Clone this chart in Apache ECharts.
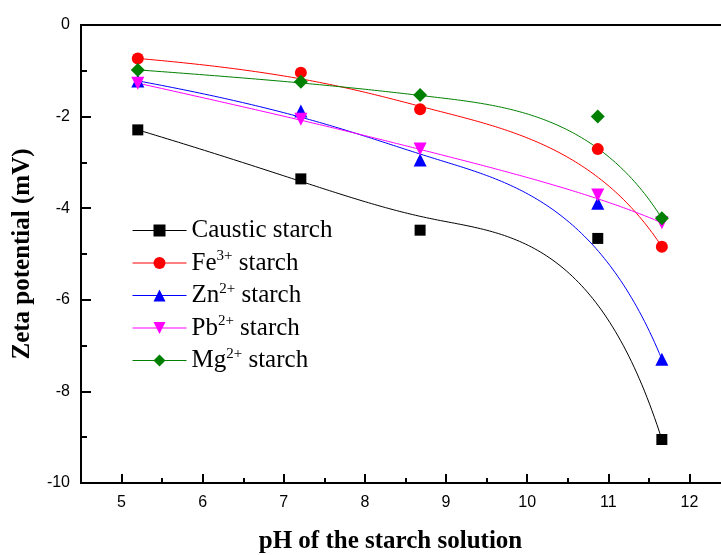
<!DOCTYPE html>
<html><head><meta charset="utf-8">
<script src="https://cdn.jsdelivr.net/npm/echarts@6/dist/echarts.min.js"></script>
<style>html,body{margin:0;padding:0;background:#fff}#c{width:721px;height:555px}</style>
</head><body><div id="c"></div>
<script>
// ---- data ----
const pH = [5.2, 7.21, 8.68, 10.87, 11.66];
const causticStarch = [-2.29, -3.36, -4.48, -4.66, -9.05];
const feStarch = [-0.73, -1.04, -1.84, -2.71, -4.84];
const znStarch = [-1.22, -1.88, -2.95, -3.89, -7.30];
const pbStarch = [-1.27, -2.06, -2.71, -3.71, -4.32];
const mgStarch = [-0.98, -1.24, -1.53, -2.00, -4.22];
const seriesNames = ['Caustic starch', 'Fe3+ starch', 'Zn2+ starch', 'Pb2+ starch', 'Mg2+ starch'];
const seriesValues = [causticStarch, feStarch, znStarch, pbStarch, mgStarch];
const xTitle = 'pH of the starch solution';
const yTitle = 'Zeta potential (mV)';

// ---- styles ----
const seriesColors = ['#000000', '#ff0000', '#0000ff', '#ff00ff', '#008000'];
const seriesSymbols = ['rect', 'circle', 'triangle', 'triangle', 'diamond'];
const seriesSymbolSizes = [11, 12, 13, 13, 14];
const seriesSymbolRotate = [0, 0, 0, 180, 0];

// Origin-style B-spline connecting line (clamped cubic, data points as control points)
function bsplinePoints(ctrl, samples) {
  const n = ctrl.length, p = Math.min(3, n - 1);
  const t = [];
  for (let i = 0; i <= p; i++) t.push(0);
  for (let i = 1; i < n - p; i++) t.push(i);
  for (let i = 0; i <= p; i++) t.push(n - p);
  const uMax = n - p, out = [];
  for (let s = 0; s <= samples; s++) {
    const u = uMax * s / samples;
    let k = p;
    while (k < n - 1 && u >= t[k + 1]) k++;
    const d = [];
    for (let j = 0; j <= p; j++) d.push(ctrl[j + k - p].slice());
    for (let r = 1; r <= p; r++) {
      for (let j = p; j >= r; j--) {
        const den = t[j + 1 + k - r] - t[j + k - p];
        const a = den === 0 ? 0 : (u - t[j + k - p]) / den;
        d[j] = [(1 - a) * d[j - 1][0] + a * d[j][0], (1 - a) * d[j - 1][1] + a * d[j][1]];
      }
    }
    out.push(d[p]);
  }
  return out;
}

const series = [];
seriesValues.forEach((vals, si) => {
  series.push({
    type: 'custom',
    silent: true,
    z: 2,
    clip: true,
    data: pH.map((x, i) => [x, vals[i]]),
    encode: { x: 0, y: 1 },
    renderItem: function (params, api) {
      if (params.dataIndex !== 0) return null;
      const ctrl = pH.map((x, i) => api.coord([x, vals[i]]));
      return {
        type: 'polyline',
        shape: { points: bsplinePoints(ctrl, 160) },
        style: { stroke: seriesColors[si], lineWidth: 1, fill: null }
      };
    }
  });
});
seriesValues.forEach((vals, si) => {
  series.push({
    name: seriesNames[si],
    type: 'line',
    z: 3 + si,
    data: pH.map((x, i) => [x, vals[i]]),
    symbol: seriesSymbols[si],
    symbolSize: seriesSymbolSizes[si],
    symbolRotate: seriesSymbolRotate[si],
    showAllSymbol: true,
    itemStyle: { color: seriesColors[si], opacity: 1 },
    lineStyle: { color: seriesColors[si], opacity: 0, width: 1 },
    emphasis: { disabled: true },
    silent: true
  });
});

function legendFmt(name) {
  const m = name.match(/^([A-Za-z]+)(\d\+)( starch)$/);
  if (m) return '{n|' + m[1] + '}{s|' + m[2] + '}{n|' + m[3] + '}';
  return '{n|' + name + '}';
}

const chart = echarts.init(document.getElementById('c'), null, { renderer: 'canvas' });
chart.setOption({
  animation: false,
  backgroundColor: '#ffffff',
  grid: { left: 81, top: 25, width: 649, height: 458, outerBoundsMode: 'none', containLabel: false, show: true, borderColor: '#000', borderWidth: 2, backgroundColor: 'transparent' },
  legend: {
    orient: 'vertical',
    left: 132,
    top: 218,
    padding: 0,
    itemWidth: 54,
    itemHeight: 15,
    itemGap: 6,
    selectedMode: false,
    data: seriesNames.map((nm, si) => ({
      name: nm,
      lineStyle: { color: seriesColors[si], opacity: 1, width: 1 },
      itemStyle: { color: seriesColors[si], opacity: 1 }
    })),
    formatter: legendFmt,
    textStyle: {
      color: '#000',
      rich: {
        n: { fontFamily: 'Liberation Serif', fontSize: 25, lineHeight: 28, color: '#000' },
        s: { fontFamily: 'Liberation Serif', fontSize: 15, lineHeight: 15, verticalAlign: 'top', color: '#000' }
      }
    }
  },
  xAxis: {
    type: 'value',
    min: 4.5,
    max: 12.5,
    splitNumber: 8,
    name: xTitle,
    nameLocation: 'middle',
    nameGap: 46,
    nameTextStyle: { fontFamily: 'Liberation Serif', fontWeight: 'bold', fontSize: 25, color: '#000', padding: [0, 30, 0, 0] },
    axisLine: { show: true, onZero: false, lineStyle: { color: '#000', width: 2 } },
    axisTick: { show: true, inside: true, length: 9, lineStyle: { color: '#000', width: 2 } },
    minorTick: { show: true, splitNumber: 2, length: 5, lineStyle: { color: '#000', width: 2 } },
    splitLine: { show: false },
    axisLabel: {
      margin: 12,
      fontFamily: 'Liberation Sans',
      fontSize: 16,
      color: '#000',
      formatter: v => (Math.abs(v - Math.round(v)) < 1e-6 ? String(Math.round(v)) : '')
    }
  },
  yAxis: {
    type: 'value',
    min: -10,
    max: 0,
    interval: 2,
    name: yTitle,
    nameLocation: 'middle',
    nameGap: 46,
    nameTextStyle: { fontFamily: 'Liberation Serif', fontWeight: 'bold', fontSize: 25, color: '#000' },
    axisLine: { show: true, onZero: false, lineStyle: { color: '#000', width: 2 } },
    axisTick: { show: true, inside: true, length: 10, lineStyle: { color: '#000', width: 2 } },
    minorTick: { show: true, splitNumber: 2, length: 6, lineStyle: { color: '#000', width: 2 } },
    splitLine: { show: false },
    axisLabel: { margin: 11, fontFamily: 'Liberation Sans', fontSize: 16, color: '#000' }
  },
  series: series
});
</script>
</body></html>
